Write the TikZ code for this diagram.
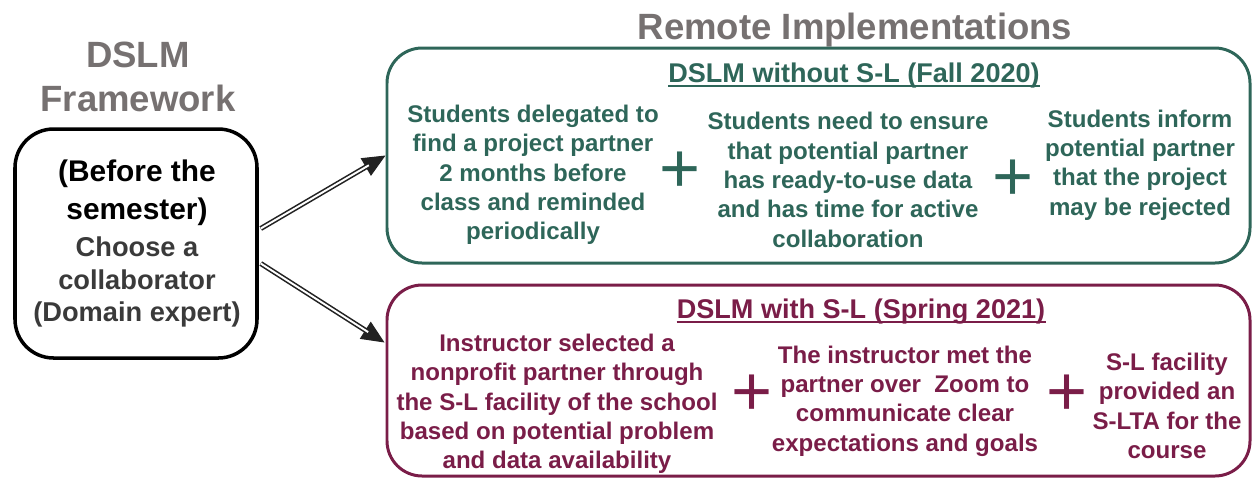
\documentclass[tikz,border=0pt]{standalone}
\usepackage{fontspec}
\setmainfont{Liberation Sans}
\usepackage{tikz}
\usetikzlibrary{arrows.meta,positioning,calc}
\definecolor{fallgreen}{RGB}{46,102,89}
\definecolor{springred}{RGB}{122,29,72}
\definecolor{headgray}{RGB}{118,113,113}
\definecolor{leftgray}{RGB}{58,58,58}
\definecolor{arrowgray}{RGB}{34,34,34}

\begin{document}
\begin{tikzpicture}[x=0.02cm,y=-0.02cm,
  head/.style={font=\bfseries\fontsize{20.8}{24}\selectfont,text=headgray,inner sep=0pt,anchor=base},
  phase/.style={draw,line width=1.7pt,rounded corners=20pt,inner sep=0pt},
  phasetitle/.style={font=\bfseries\fontsize{15.4}{18}\selectfont,inner sep=0pt,anchor=base},
  item/.style={align=center,font=\bfseries\fontsize{13.7}{16.7}\selectfont,inner sep=0pt},
  plus/.style={font=\fontsize{40}{40}\selectfont,inner sep=0pt},
  feedtip/.style={arrowgray,line width=0.6pt,-{Triangle[length=13pt,width=11.5pt]}},
  feed/.style={double=white,draw=arrowgray,double distance=1.1pt,line width=0.9pt,shorten >=11pt}]
\useasboundingbox (0,0) rectangle (1254,485);

% left side
\node[head] (dslm) at (138,67) {DSLM};
\node[head] (frame) at (138,111) {Framework};
\node[draw,line width=2pt,rounded corners=22pt,minimum width=242*0.02cm,minimum height=229*0.02cm] (lbox) at (136,243.5) {};
\node[align=center,inner sep=0pt,font=\bfseries\fontsize{17}{21.5}\selectfont] (before) at (137,193) {(Before the\\semester)};
\node[align=center,inner sep=0pt,text=leftgray,font=\bfseries\fontsize{15.5}{18.7}\selectfont] (choose) at (137,282) {Choose a\\collaborator\\(Domain expert)};

\node[head] (remote) at (855,39) {Remote Implementations};

% fall 2020
\node[phase,draw=fallgreen,minimum width=863*0.02cm,minimum height=215*0.02cm] (fall) at (818.5,155.5) {};
\node[phasetitle,text=fallgreen] (falltitle) at (854,82) {DSLM without S-L (Fall 2020)};
\draw[fallgreen,line width=1.1pt] ($(falltitle.base west)+(0,4)$) -- ($(falltitle.base east)+(0,4)$);
\begin{scope}[text=fallgreen]
\node[item] (fa) at (533,175) {Students delegated to\\find a project partner\\2 months before\\class and reminded\\periodically};
\node[plus] (fp1) at (680,172) {+};
\node[item] (fb) at (848,180) {Students need to ensure\\that potential partner\\has ready-to-use data\\and has time for active\\collaboration};
\node[plus] (fp2) at (1013,180) {+};
\node[item] (fc) at (1140,165) {Students inform\\potential partner\\that the project\\may be rejected};
\end{scope}

% spring 2021
\node[phase,draw=springred,minimum width=863*0.02cm,minimum height=191*0.02cm] (spring) at (818.5,380.5) {};
\node[phasetitle,text=springred] (springtitle) at (861,318) {DSLM with S-L (Spring 2021)};
\draw[springred,line width=1.1pt] ($(springtitle.base west)+(0,4)$) -- ($(springtitle.base east)+(0,4)$);
\begin{scope}[text=springred]
\node[item] (sa) at (557,404) {Instructor selected a\\nonprofit partner through\\the S-L facility of the school\\based on potential problem\\and data availability};
\node[plus] (sp1) at (752,395) {+};
\node[item] (sb) at (905,401) {The instructor met the\\partner over~ Zoom to\\communicate clear\\expectations and goals};
\node[plus] (sp2) at (1067,395) {+};
\node[item] (sc) at (1167,406) {S-L facility\\provided an\\S-LTA for the\\course};
\end{scope}

% arrows
\coordinate (upstart) at ($(lbox.east)+(2,-15)$);
\coordinate (downstart) at ($(lbox.east)+(2,20)$);
\coordinate (downend) at ($(spring.west)+(-1,-38)$);
\draw[feedtip] (upstart) -- (fall.west);
\draw[feed] (upstart) -- (fall.west);
\draw[feedtip] (downstart) -- (downend);
\draw[feed] (downstart) -- (downend);
\end{tikzpicture}
\end{document}
